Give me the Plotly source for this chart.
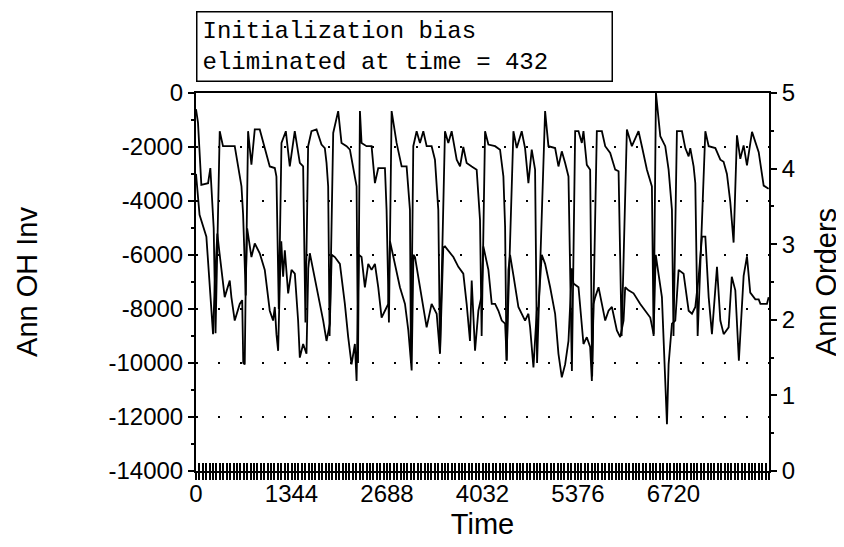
import plotly.graph_objects as go

# Annual on-hand inventory (left axis) - time / value
inv_time = [0, 28, 75, 170, 202, 249, 275, 334, 380, 545, 640, 663, 700, 733, 780, 827, 897, 968, 1038, 1109,
            1132, 1165, 1203, 1264, 1320, 1390, 1461, 1508, 1540, 1578, 1625, 1696, 1766, 1813, 1837, 1860, 1880, 1931, 2001, 2048,
            2119, 2166, 2213, 2260, 2280, 2307, 2330, 2400, 2471, 2518, 2565, 2659, 2682, 2706, 2715, 2753, 2823, 2894, 2964, 3011,
            3025, 3058, 3105, 3152, 3199, 3246, 3316, 3363, 3410, 3434, 3504, 3551, 3598, 3669, 3716, 3762, 3809, 3880, 3950, 3997,
            4020, 4068, 4115, 4209, 4279, 4326, 4350, 4370, 4467, 4514, 4584, 4631, 4678, 4725, 4772, 4800, 4913, 4960, 5054, 5101,
            5148, 5195, 5242, 5290, 5336, 5383, 5430, 5453, 5500, 5547, 5575, 5641, 5712, 5759, 5829, 5900, 5947, 5990, 6064, 6134,
            6228, 6275, 6346, 6416, 6440, 6473, 6534, 6604, 6651, 6698, 6720, 6768, 6839, 6886, 6933, 6956, 7003, 7027, 7060, 7168,
            7215, 7309, 7379, 7425, 7472, 7519, 7566, 7613, 7660, 7707, 7754, 7825, 7919, 7989, 8059]
inv_value = [-600, -1100, -3400, -3340, -2780, -5000, -8900, -1415, -1970, -1970, -3460, -4500, -7500, -1415, -2650, -1350, -1350, -2040, -2720, -2780,
             -3100, -8000, -1850, -1415, -2720, -1415, -2590, -2720, -8500, -1970, -1415, -1350, -1910, -2040, -2590, -3460, -9000, -1480, -670, -1850,
             -1970, -2100, -2720, -3460, -10000, -670, -1850, -1970, -1970, -3340, -2780, -2780, -4330, -6810, -8500, -670, -1850, -2720, -2720, -4330,
             -10000, -1970, -1415, -1850, -1415, -1970, -1970, -2470, -4330, -9600, -1415, -1850, -1415, -2470, -2720, -2000, -2590, -2720, -2840, -4700,
             -9000, -1415, -1910, -1970, -2100, -3090, -4950, -9900, -1415, -2040, -1415, -2040, -3340, -2100, -2840, -10000, -670, -1970, -2040, -2720,
             -2160, -2590, -3090, -10300, -1415, -1415, -1850, -1415, -2660, -2840, -10500, -1415, -1415, -1970, -2220, -2840, -2900, -9000, -1350, -1970,
             -1415, -1970, -2840, -3460, -9000, 0, -1600, -1970, -2840, -4330, -9000, -1415, -1415, -2040, -2350, -2040, -2720, -3340, -9000, -1415,
             -1970, -2040, -2470, -2550, -3000, -4030, -5540, -1570, -2440, -1940, -2680, -1440, -2190, -3430, -3550]

# Annual orders (right axis) - time / value
ord_time = [0, 50, 146, 200, 240, 265, 300, 330, 404, 475, 498, 545, 616, 650, 665, 686, 700, 720, 780, 827,
            897, 968, 1038, 1085, 1109, 1132, 1156, 1180, 1200, 1226, 1250, 1297, 1344, 1391, 1437, 1461, 1508, 1555, 1580, 1602,
            1649, 1720, 1790, 1837, 1884, 1910, 1954, 2025, 2095, 2142, 2189, 2236, 2260, 2290, 2330, 2377, 2424, 2471, 2518, 2565,
            2612, 2659, 2706, 2730, 2776, 2870, 2941, 2988, 3035, 3060, 3082, 3152, 3246, 3316, 3387, 3434, 3480, 3504, 3575, 3622,
            3692, 3762, 3809, 3856, 3880, 3927, 3974, 4020, 4044, 4115, 4162, 4209, 4256, 4303, 4350, 4373, 4397, 4420, 4470, 4537,
            4631, 4678, 4702, 4749, 4796, 4819, 4866, 4913, 4984, 5054, 5101, 5148, 5195, 5242, 5290, 5312, 5383, 5453, 5500, 5547,
            5571, 5594, 5618, 5665, 5712, 5759, 5806, 5853, 5923, 5970, 6017, 6040, 6087, 6158, 6252, 6322, 6393, 6440, 6470, 6557,
            6604, 6628, 6651, 6698, 6745, 6792, 6862, 6933, 6980, 7027, 7074, 7121, 7168, 7215, 7261, 7332, 7379, 7426, 7496, 7540,
            7590, 7640, 7707, 7754, 7800, 7872, 7919, 7943, 8035, 8059]
ord_value = [3.93, 3.39, 3.10, 2.32, 1.81, 2.50, 3.14, 2.89, 2.30, 2.52, 2.30, 1.99, 2.21, 2.26, 1.43, 1.41, 2.50, 3.21, 2.83, 3.01,
             2.88, 2.66, 2.12, 1.99, 2.17, 1.81, 1.59, 2.50, 3.04, 2.57, 2.92, 2.35, 2.66, 2.61, 1.99, 1.50, 1.68, 1.55, 2.68, 2.88,
             2.66, 2.30, 1.99, 1.72, 1.95, 2.86, 2.83, 2.74, 2.21, 1.77, 1.41, 1.68, 1.19, 2.86, 2.83, 2.43, 2.74, 2.66, 2.74, 2.43,
             2.03, 2.12, 2.21, 3.04, 2.83, 2.43, 2.21, 1.86, 1.33, 2.86, 2.83, 2.43, 1.90, 2.21, 2.08, 1.55, 2.96, 2.97, 2.88, 2.83,
             2.70, 2.61, 2.21, 1.72, 2.52, 1.59, 2.12, 2.32, 2.97, 2.66, 2.21, 2.21, 2.12, 1.99, 1.95, 1.46, 2.66, 2.86, 2.57, 2.17,
             1.99, 2.08, 1.90, 1.37, 2.12, 2.17, 2.86, 2.74, 2.43, 2.08, 1.55, 1.24, 1.41, 1.72, 2.68, 2.48, 2.43, 1.68, 1.77, 1.64,
             1.19, 2.21, 2.30, 2.43, 2.21, 1.99, 2.12, 2.17, 1.86, 1.77, 1.99, 2.43, 2.39, 2.35, 2.21, 2.12, 2.03, 1.81, 2.86, 2.30,
             1.33, 0.62, 1.41, 1.95, 1.99, 2.66, 2.61, 2.12, 2.08, 2.17, 2.57, 3.10, 3.10, 2.30, 1.81, 2.70, 1.99, 1.81, 1.90, 2.57,
             2.39, 1.46, 2.58, 2.84, 2.36, 2.27, 2.27, 2.21, 2.21, 2.30]

x_ticks = [0, 1344, 2688, 4032, 5376, 6720]
x_end = 8064
inv_ticks = [0, -2000, -4000, -6000, -8000, -10000, -12000, -14000]
note = "Initialization bias<br>eliminated at time = 432"

SANS = "Liberation Sans, Arial, sans-serif"
MONO = "Liberation Mono, Courier New, monospace"

fig = go.Figure()
fig.add_trace(go.Scatter(x=inv_time, y=inv_value, mode="lines",
                         line=dict(color="black", width=1.8), xaxis="x", yaxis="y"))
fig.add_trace(go.Scatter(x=ord_time, y=ord_value, mode="lines",
                         line=dict(color="black", width=1.8), xaxis="x2", yaxis="y2"))

fig.update_layout(
    width=844, height=547,
    margin=dict(l=188, r=83, t=85, b=84),
    paper_bgcolor="white", plot_bgcolor="white",
    showlegend=False,
    font=dict(family=SANS, size=24, color="black"),

    xaxis=dict(
        range=[0, x_end], tickvals=x_ticks, ticktext=[str(v) for v in x_ticks],
        ticks="inside", ticklen=8, tickwidth=1.5, tickcolor="black",
        minor=dict(tick0=0, dtick=48, ticks="inside", ticklen=8, tickwidth=1.8, tickcolor="black"),
        showline=True, linecolor="black", linewidth=2, mirror=True,
        showgrid=False, zeroline=False,
        title=dict(text="Time", standoff=8),
    ),
    # second x axis only carries the outer half of the dense tick rug
    xaxis2=dict(
        range=[0, x_end], overlaying="x", anchor="y2", side="bottom",
        tick0=0, dtick=48, ticks="outside", ticklen=8, tickwidth=1.8, tickcolor="black",
        showticklabels=False, showline=False, showgrid=False, zeroline=False,
    ),
    yaxis=dict(
        range=[-14000, 0], tickvals=inv_ticks, ticktext=[str(v) for v in inv_ticks],
        ticks="outside", ticklen=6, tickwidth=1.5, tickcolor="black",
        minor=dict(dtick=1000, ticks="outside", ticklen=3, tickcolor="black"),
        showline=True, linecolor="black", linewidth=2, mirror=True,
        showgrid=True, gridcolor="black", gridwidth=2, griddash="2px,20px",
        zeroline=False,
        title=dict(text="Ann OH Inv", standoff=62),
    ),
    yaxis2=dict(
        range=[0, 5], dtick=1, overlaying="y", side="right", anchor="x2",
        ticks="outside", ticklen=6, tickwidth=1.5, tickcolor="black",
        minor=dict(dtick=0.5, ticks="outside", ticklen=3, tickcolor="black"),
        showline=True, linecolor="black", linewidth=2,
        showgrid=False, zeroline=False,
        title=dict(text="Ann Orders", standoff=22),
    ),
)

fig.add_annotation(
    text=note, xref="paper", yref="paper", x=0, y=1.03,
    xanchor="left", yanchor="bottom", align="left", showarrow=False,
    width=404, borderpad=5, bordercolor="black", borderwidth=1.5, bgcolor="white",
    font=dict(family=MONO, size=24, color="black"),
)

fig.write_html("out.html")
